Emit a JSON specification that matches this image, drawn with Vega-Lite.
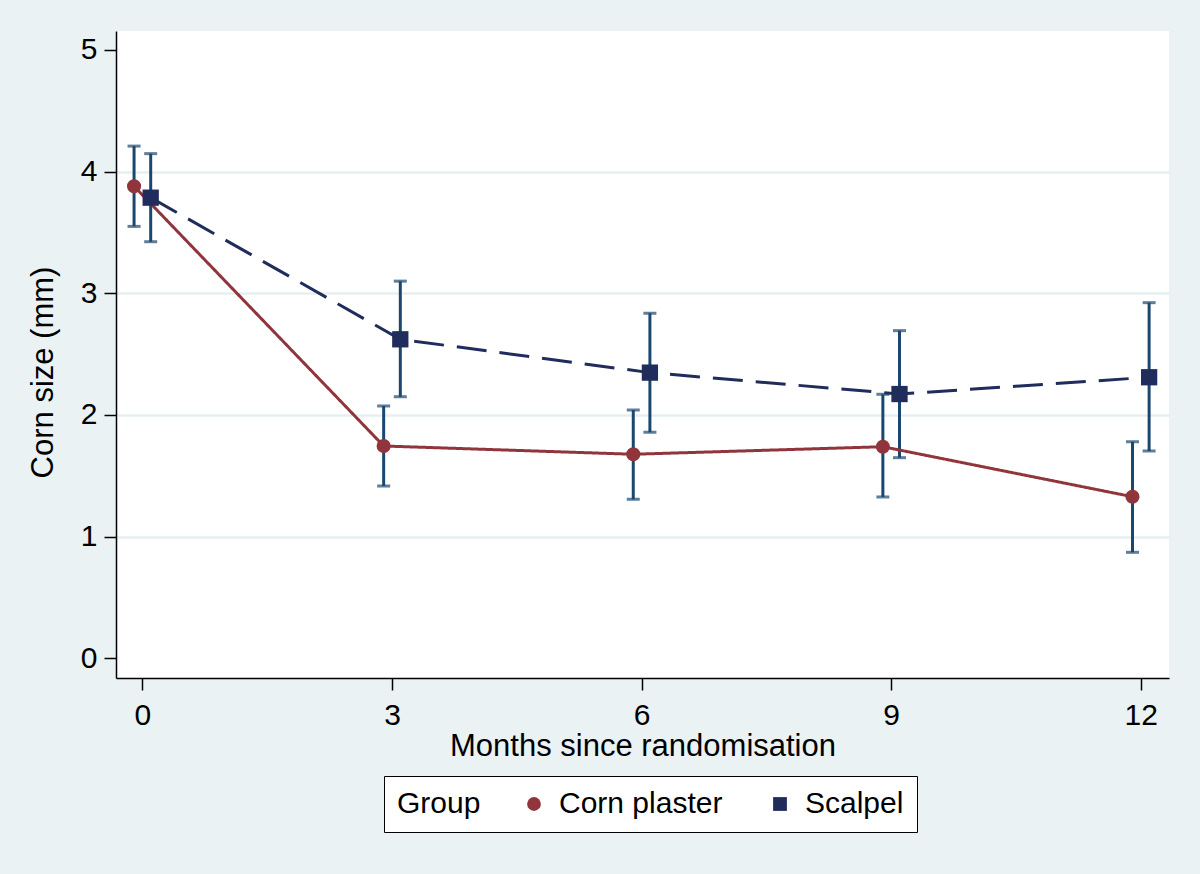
{
  "$schema": "https://vega.github.io/schema/vega-lite/v6.json",
  "width": 1053,
  "height": 647,
  "autosize": {"type": "none"},
  "padding": {"left": 116, "top": 31, "right": 31, "bottom": 196},
  "background": "#eaf2f3",
  "config": {
    "view": {"fill": "white", "stroke": null},
    "font": "Liberation Sans",
    "axis": {
      "labelFont": "Liberation Sans",
      "titleFont": "Liberation Sans",
      "labelFontSize": 30,
      "titleFontSize": 31,
      "titleFontWeight": "normal",
      "labelColor": "black",
      "titleColor": "black",
      "domainColor": "black",
      "domainWidth": 1.5,
      "tickColor": "black",
      "tickWidth": 1.5,
      "tickSize": 12,
      "labelOverlap": false,
      "labelFlush": false
    },
    "legend": {
      "orient": "none",
      "direction": "horizontal",
      "legendX": 268,
      "legendY": 745,
      "titleOrient": "left",
      "fillColor": "white",
      "strokeColor": "black",
      "padding": 13,
      "columnPadding": 42,
      "labelOffset": 10,
      "titlePadding": 38,
      "labelLimit": 400,
      "symbolSize": 190,
      "symbolStrokeWidth": 0,
      "labelFont": "Liberation Sans",
      "titleFont": "Liberation Sans",
      "labelFontSize": 30,
      "titleFontSize": 30,
      "titleFontWeight": "normal",
      "labelColor": "black",
      "titleColor": "black"
    }
  },
  "data": {
    "values": [
      {"group": "Corn plaster", "month": -0.1, "mean": 3.88, "lo": 3.55, "hi": 4.21},
      {"group": "Corn plaster", "month": 2.9, "mean": 1.745, "lo": 1.416, "hi": 2.074},
      {"group": "Corn plaster", "month": 5.9, "mean": 1.677, "lo": 1.307, "hi": 2.041},
      {"group": "Corn plaster", "month": 8.9, "mean": 1.739, "lo": 1.326, "hi": 2.17},
      {"group": "Corn plaster", "month": 11.9, "mean": 1.328, "lo": 0.871, "hi": 1.78},
      {"group": "Scalpel", "month": 0.1, "mean": 3.786, "lo": 3.424, "hi": 4.148},
      {"group": "Scalpel", "month": 3.1, "mean": 2.622, "lo": 2.15, "hi": 3.1},
      {"group": "Scalpel", "month": 6.1, "mean": 2.348, "lo": 1.858, "hi": 2.836},
      {"group": "Scalpel", "month": 9.1, "mean": 2.172, "lo": 1.649, "hi": 2.693},
      {"group": "Scalpel", "month": 12.1, "mean": 2.31, "lo": 1.704, "hi": 2.923}
    ]
  },
  "encoding": {
    "x": {
      "field": "month",
      "type": "quantitative",
      "scale": {"domain": [-0.317, 12.339], "nice": false, "zero": false},
      "axis": {
        "title": "Months since randomisation",
        "values": [0, 3, 6, 9, 12],
        "format": "d",
        "grid": false,
        "labelPadding": 10,
        "titlePadding": 1,
        "labelAngle": 0
      }
    }
  },
  "layer": [
    {
      "mark": {"type": "rule", "color": "#1a476f", "strokeWidth": 3},
      "encoding": {
        "y": {
          "field": "lo",
          "type": "quantitative",
          "scale": {"domain": [-0.162, 5.156], "nice": false, "zero": false},
          "axis": {
            "title": "Corn size (mm)",
            "values": [0, 1, 2, 3, 4, 5],
            "format": "d",
            "grid": true,
            "gridColor": "#e6eff1",
            "gridWidth": 2.5,
            "gridOpacity": {"condition": {"test": "datum.value === 0 || datum.value === 5", "value": 0}, "value": 1},
            "labelPadding": 7,
            "titlePadding": 21,
            "titleY": 341
          }
        },
        "y2": {"field": "hi"}
      }
    },
    {
      "mark": {"type": "tick", "orient": "horizontal", "size": 13, "thickness": 3, "color": "#1a476f"},
      "encoding": {"y": {"field": "lo", "type": "quantitative"}}
    },
    {
      "mark": {"type": "tick", "orient": "horizontal", "size": 13, "thickness": 3, "color": "#1a476f"},
      "encoding": {"y": {"field": "hi", "type": "quantitative"}}
    },
    {
      "mark": {"type": "line", "strokeWidth": 3},
      "encoding": {
        "y": {"field": "mean", "type": "quantitative"},
        "detail": {"field": "group"},
        "stroke": {
          "condition": {"test": "datum.group === 'Scalpel'", "value": "#1f2c5c"},
          "value": "#90353b"
        },
        "strokeDash": {
          "condition": {"test": "datum.group === 'Scalpel'", "value": [30, 13]},
          "value": [1, 0]
        }
      }
    },
    {
      "mark": {"type": "point", "filled": true, "opacity": 1},
      "encoding": {
        "y": {"field": "mean", "type": "quantitative"},
        "size": {
          "condition": {"test": "datum.group === 'Scalpel'", "value": 265},
          "value": 200
        },
        "color": {
          "field": "group",
          "type": "nominal",
          "title": "Group",
          "scale": {"domain": ["Corn plaster", "Scalpel"], "range": ["#90353b", "#1f2c5c"]}
        },
        "shape": {
          "field": "group",
          "type": "nominal",
          "title": "Group",
          "scale": {"domain": ["Corn plaster", "Scalpel"], "range": ["circle", "square"]}
        }
      }
    }
  ]
}
